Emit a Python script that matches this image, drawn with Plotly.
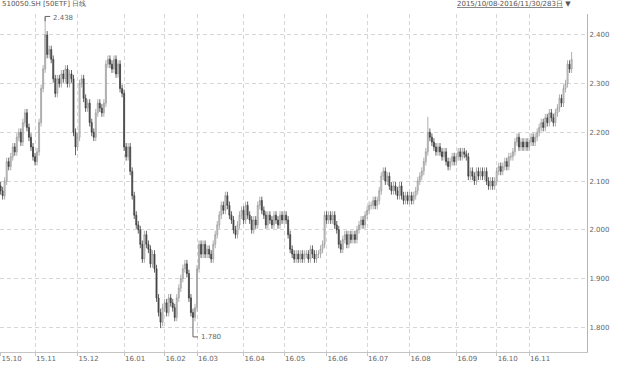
import plotly.graph_objects as go

# ---- data ----
close = [
    # 2015-10 (17)
    2.08, 2.07, 2.10, 2.14, 2.13, 2.15, 2.17, 2.16, 2.19, 2.20, 2.18, 2.22, 2.24, 2.21, 2.19, 2.17, 2.15,
    # 2015-11 (21)
    2.14, 2.16, 2.22, 2.29, 2.33, 2.40, 2.36, 2.37, 2.35, 2.31, 2.28, 2.31, 2.30, 2.32, 2.31, 2.33, 2.30, 2.32, 2.31, 2.20, 2.17,
    # 2015-12 (23)
    2.19, 2.30, 2.31, 2.27, 2.25, 2.26, 2.22, 2.20, 2.19, 2.24, 2.26, 2.25, 2.24, 2.26, 2.34, 2.35, 2.34, 2.33, 2.35, 2.32, 2.34, 2.29, 2.28,
    # 2016-01 (20)
    2.17, 2.15, 2.17, 2.12, 2.07, 2.03, 2.01, 2.00, 1.97, 1.94, 1.99, 1.97, 1.96, 1.93, 1.95, 1.92, 1.86, 1.83, 1.81, 1.84,
    # 2016-02 (16)
    1.85, 1.83, 1.86, 1.85, 1.84, 1.82, 1.86, 1.88, 1.90, 1.92, 1.93, 1.91, 1.86, 1.83, 1.82, 1.84,
    # 2016-03 (23)
    1.92, 1.97, 1.95, 1.97, 1.95, 1.96, 1.95, 1.94, 1.97, 1.99, 2.01, 2.03, 2.05, 2.04, 2.07, 2.05, 2.03, 2.02, 2.00, 1.99, 2.01, 2.03, 2.04,
    # 2016-04 (20)
    2.02, 2.05, 2.03, 2.02, 2.00, 2.02, 2.01, 2.05, 2.06, 2.04, 2.03, 2.01, 2.03, 2.02, 2.01, 2.03, 2.02, 2.01, 2.03, 2.02,
    # 2016-05 (21)
    2.03, 2.02, 1.99, 1.96, 1.95, 1.94, 1.95, 1.94, 1.95, 1.94, 1.95, 1.95, 1.94, 1.96, 1.95, 1.94, 1.95, 1.95, 1.96, 1.97, 2.03,
    # 2016-06 (20)
    2.02, 2.03, 2.02, 2.03, 2.01, 2.00, 1.97, 1.96, 1.98, 1.99, 1.97, 1.99, 1.98, 1.99, 1.98, 2.00, 2.01, 2.02, 2.01, 2.03,
    # 2016-07 (21)
    2.04, 2.05, 2.05, 2.06, 2.05, 2.06, 2.08, 2.11, 2.12, 2.10, 2.11, 2.09, 2.08, 2.09, 2.08, 2.07, 2.09, 2.07, 2.06, 2.07, 2.06,
    # 2016-08 (23)
    2.07, 2.06, 2.07, 2.08, 2.10, 2.11, 2.12, 2.14, 2.16, 2.20, 2.19, 2.18, 2.17, 2.16, 2.17, 2.16, 2.15, 2.16, 2.14, 2.13, 2.14, 2.15, 2.14,
    # 2016-09 (20)
    2.15, 2.16, 2.15, 2.16, 2.155, 2.15, 2.11, 2.12, 2.11, 2.10, 2.12, 2.11, 2.12, 2.11, 2.12, 2.10, 2.09, 2.10, 2.09, 2.10,
    # 2016-10 (16)
    2.12, 2.13, 2.12, 2.13, 2.14, 2.13, 2.15, 2.15, 2.16, 2.18, 2.19, 2.17, 2.18, 2.17, 2.18, 2.17,
    # 2016-11 (22)
    2.18, 2.19, 2.18, 2.19, 2.20, 2.21, 2.22, 2.21, 2.23, 2.22, 2.24, 2.23, 2.22, 2.24, 2.25, 2.27, 2.26, 2.29, 2.30, 2.34, 2.33, 2.35,
]
first_open = 2.09
wick = 0.008
extreme_high = {22: 2.438, 211: 2.232, 282: 2.365}
extreme_low = {95: 1.780, 79: 1.798, 37: 2.153}

month_labels = ["15.10", "15.11", "15.12", "16.01", "16.02", "16.03", "16.04",
                "16.05", "16.06", "16.07", "16.08", "16.09", "16.10", "16.11"]
month_days = [17, 21, 23, 20, 16, 23, 20, 21, 20, 21, 23, 20, 16, 22]
y_ticks = [1.8, 1.9, 2.0, 2.1, 2.2, 2.3, 2.4]

# ---- build OHLC ----
n = len(close)
x = list(range(n))
opens = [first_open] + close[:-1]
highs = [max(o, c) + wick for o, c in zip(opens, close)]
lows = [min(o, c) - wick for o, c in zip(opens, close)]
for k, v in extreme_high.items():
    highs[k] = v
for k, v in extreme_low.items():
    lows[k] = v

month_starts = []
s = 0
for d in month_days:
    month_starts.append(s)
    s += d

fig = go.Figure()
fig.add_trace(go.Candlestick(
    x=x, open=opens, high=highs, low=lows, close=close,
    increasing=dict(line=dict(color="#9a9a9a", width=0.8), fillcolor="#e4e4e4"),
    decreasing=dict(line=dict(color="#3c3c3c", width=0.8), fillcolor="#555555"),
    whiskerwidth=0, showlegend=False, hoverinfo="skip",
))

grid_col = "#d6d6d6"
font = dict(family="DejaVu Sans", size=7, color="#666666")

fig.update_layout(
    width=620, height=366,
    margin=dict(l=0, r=33, t=14, b=14),
    paper_bgcolor="white", plot_bgcolor="white",
    font=font,
    xaxis=dict(
        range=[-0.3, 289.6], rangeslider=dict(visible=False),
        tickmode="array", tickvals=month_starts, ticktext=month_labels,
        ticklabelposition="outside right",
        showgrid=True, gridcolor=grid_col, griddash="4px,3px", gridwidth=1,
        showline=True, linecolor="#c4c4c4", linewidth=1,
        ticks="outside", ticklen=3, tickcolor="#c4c4c4",
        zeroline=False, tickfont=font,
    ),
    yaxis=dict(
        side="right", range=[1.749, 2.443],
        tickmode="array", tickvals=y_ticks, tickformat=".3f",
        showgrid=True, gridcolor=grid_col, griddash="4px,3px", gridwidth=1,
        showline=True, linecolor="#b4b4b4", linewidth=1,
        ticks="", zeroline=False, tickfont=font,
    ),
)

# title texts
fig.add_annotation(xref="paper", yref="paper", x=0, y=1.0, yshift=10,
                   text="510050.SH [50ETF] 日线", showarrow=False,
                   xanchor="left", yanchor="middle", font=dict(family="DejaVu Sans", size=7, color="#555"))
fig.add_annotation(xref="paper", yref="paper", x=1.0, y=1.0, yshift=10, xshift=-14,
                   text="<u>2015/10/08-2016/11/30/283日</u> ▼", showarrow=False,
                   xanchor="right", yanchor="middle", font=dict(family="DejaVu Sans", size=7, color="#555"))

# max / min markers
hi_idx = max(range(n), key=lambda i: highs[i])
lo_idx = min(range(n), key=lambda i: lows[i])
fig.add_shape(type="line", x0=hi_idx, x1=hi_idx + 2.5, y0=highs[hi_idx], y1=highs[hi_idx],
              line=dict(color="#666", width=1))
fig.add_shape(type="line", x0=hi_idx, x1=hi_idx, y0=highs[hi_idx], y1=highs[hi_idx] - 0.01,
              line=dict(color="#666", width=1))
fig.add_annotation(x=hi_idx + 2.8, y=highs[hi_idx] - 0.004, text=f"{highs[hi_idx]:.3f}",
                   showarrow=False, xanchor="left", yanchor="middle", font=font)
fig.add_shape(type="line", x0=lo_idx, x1=lo_idx + 2.5, y0=lows[lo_idx], y1=lows[lo_idx],
              line=dict(color="#666", width=1))
fig.add_annotation(x=lo_idx + 2.8, y=lows[lo_idx], text=f"{lows[lo_idx]:.3f}",
                   showarrow=False, xanchor="left", yanchor="middle", font=font)

fig.write_html("out.html")
